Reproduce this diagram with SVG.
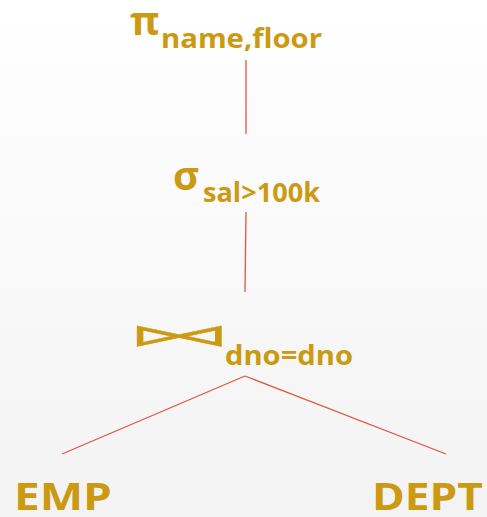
<svg xmlns="http://www.w3.org/2000/svg" width="487" height="517" viewBox="0 0 487 517">
  <defs>
    <linearGradient id="bg" x1="0" y1="0" x2="0" y2="1">
      <stop offset="0" stop-color="#ffffff"/>
      <stop offset="1" stop-color="#f3f3f3"/>
    </linearGradient>
    <style>
      .op { font-family: "Open Sans", "Liberation Sans", sans-serif; font-weight: bold; fill: #CC9A12; }
      .sym { font-family: "DejaVu Sans", sans-serif; fill: #CC9A12; stroke: #CC9A12; stroke-width: 0.5; text-anchor: middle; }
      .edge { stroke: #E0573C; stroke-width: 1.3; fill: none; }
    </style>
  </defs>
  <rect width="487" height="517" fill="url(#bg)"/>

  <g id="edges">
    <line class="edge" x1="246" y1="60" x2="246" y2="134"/>
    <line class="edge" x1="246" y1="212" x2="245" y2="292"/>
    <line class="edge" x1="245" y1="376" x2="62" y2="454"/>
    <line class="edge" x1="245" y1="376" x2="446" y2="454"/>
  </g>

  <g id="project">
    <text class="op" x="130" y="35" font-size="40">π</text>
    <text class="op" x="161" y="48" font-size="26" textLength="161" lengthAdjust="spacingAndGlyphs">name,floor</text>
  </g>

  <g id="select">
    <text class="op" x="173" y="190" font-size="40">σ</text>
    <text class="op" x="203" y="202" font-size="26" textLength="117" lengthAdjust="spacingAndGlyphs">sal&gt;100k</text>
  </g>

  <g id="join">
    <!-- bowtie join symbol, stretched wide -->
    <text class="sym" transform="translate(158,347) scale(1.95,1)" font-size="34.5">⊳</text>
    <text class="sym" transform="translate(200.5,347) scale(1.95,1)" font-size="34.5">⊲</text>
    <text class="op" x="225" y="365" font-size="26" textLength="128" lengthAdjust="spacingAndGlyphs">dno=dno</text>
  </g>

  <g id="emp">
    <text class="op" x="14" y="510" font-size="38" textLength="98" lengthAdjust="spacingAndGlyphs">EMP</text>
  </g>

  <g id="dept">
    <text class="op" x="372" y="510" font-size="38" textLength="111" lengthAdjust="spacingAndGlyphs">DEPT</text>
  </g>
</svg>
